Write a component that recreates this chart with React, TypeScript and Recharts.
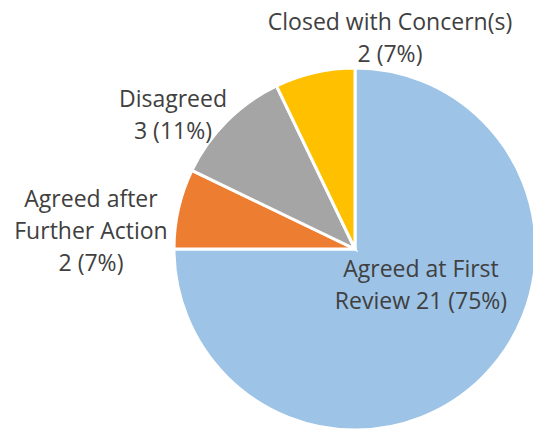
import { PieChart, Pie, Cell } from "recharts";

const categories = [
  "Agreed at First Review",
  "Agreed after Further Action",
  "Disagreed",
  "Closed with Concern(s)",
];
const values = [21, 2, 3, 2];
// how each label is broken into lines; the count text is appended to the last line
const labelLines = [
  ["Agreed at First", "Review"],
  ["Agreed after", "Further Action", ""],
  ["Disagreed", ""],
  ["Closed with Concern(s)", ""],
];
const colors = ["#9DC3E6", "#ED7D31", "#A5A5A5", "#FFC000"];

const total = values.reduce((a, b) => a + b, 0);
const data = categories.map((name, i) => ({ name, value: values[i] }));

// label anchor (first baseline) relative to pie centre
const labelOffsets = [
  [66, 28],
  [-264, -42],
  [-182, -142],
  [35, -219],
];
const lineHeight = 32;

const renderLabel = (props: any) => {
  const { cx, cy, index, value } = props;
  const pct = Math.round((value / total) * 100);
  const lines = [...labelLines[index]];
  const last = lines.length - 1;
  lines[last] = (lines[last] ? lines[last] + " " : "") + `${value} (${pct}%)`;
  const [dx, dy] = labelOffsets[index];
  return (
    <text
      key={`label-${index}`}
      x={cx + dx}
      y={cy + dy}
      textAnchor="middle"
      fill="#404040"
      fontSize={23}
      fontFamily="'Open Sans', sans-serif"
    >
      {lines.map((line, j) => (
        <tspan key={j} x={cx + dx} y={cy + dy + j * lineHeight}>
          {line}
        </tspan>
      ))}
    </text>
  );
};

export default function App() {
  return (
    <div style={{ position: "fixed", left: 0, top: 0, width: 533, height: 430, background: "#fff" }}>
      <PieChart width={533} height={430} margin={{ top: 0, right: 0, bottom: 0, left: 0 }}>
        <Pie
          data={data}
          dataKey="value"
          nameKey="name"
          cx={355}
          cy={249}
          outerRadius={181}
          startAngle={90}
          endAngle={-270}
          stroke="#ffffff"
          strokeWidth={3}
          label={renderLabel}
          labelLine={false}
          isAnimationActive={false}
        >
          {data.map((d, i) => (
            <Cell key={d.name} fill={colors[i]} />
          ))}
        </Pie>
      </PieChart>
    </div>
  );
}
